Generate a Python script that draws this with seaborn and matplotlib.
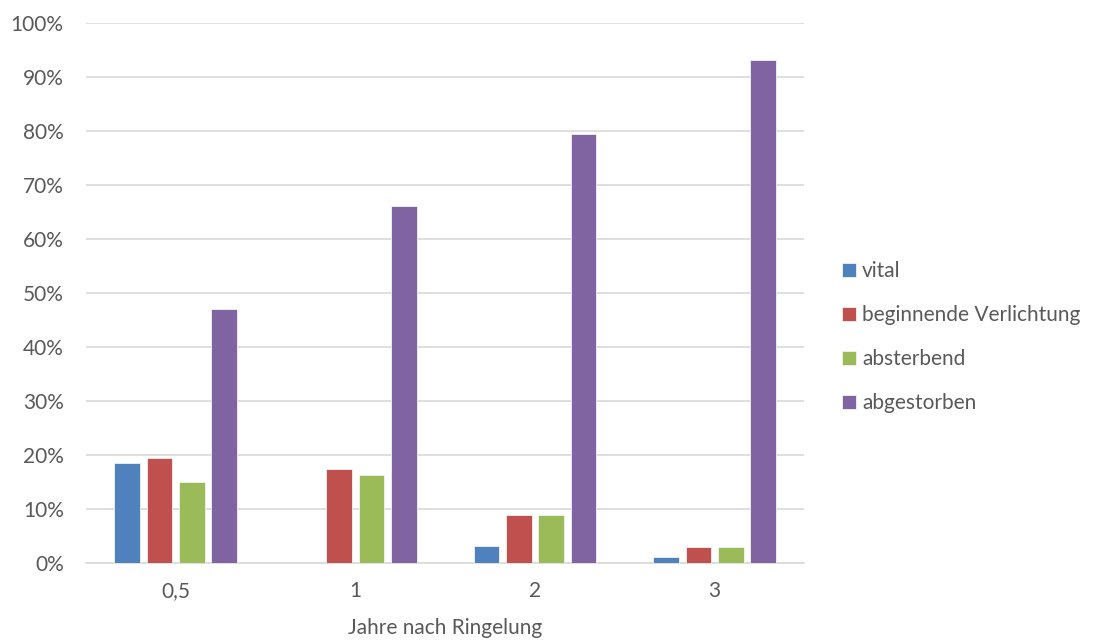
import matplotlib
matplotlib.use("Agg")
import matplotlib.pyplot as plt
import seaborn as sns
import pandas as pd
from matplotlib.ticker import FuncFormatter, MultipleLocator

# Anteil der Bäume je Zustandsklasse (in %) nach Jahren seit Ringelung
jahre = ["0,5", "1", "2", "3"]
vital = [18.5, 0.0, 3.2, 1.05]
beginnende_verlichtung = [19.5, 17.5, 8.8, 3.0]
absterbend = [15.0, 16.3, 8.8, 3.0]
abgestorben = [47.0, 66.2, 79.5, 93.1]

klassen = ["vital", "beginnende Verlichtung", "absterbend", "abgestorben"]
farben = ["#4F81BD", "#C0504D", "#9BBB59", "#8064A2"]

rows = []
for klasse, werte in zip(klassen, [vital, beginnende_verlichtung, absterbend, abgestorben]):
    for j, w in zip(jahre, werte):
        rows.append({"Jahre": j, "Klasse": klasse, "Anteil": w})
df = pd.DataFrame(rows)

sns.set_theme(style="white")
plt.rcParams["font.family"] = ["Lato", "DejaVu Sans"]

fig = plt.figure(figsize=(11.02, 6.43), dpi=100)
ax = fig.add_axes([0.078, 0.1244, 0.652, 0.8398])

sns.barplot(data=df, x="Jahre", y="Anteil", hue="Klasse", order=jahre,
            hue_order=klassen, palette=farben, width=0.72, gap=0.21,
            saturation=1, ax=ax, edgecolor="#F2F2F2", linewidth=0.6, zorder=3)

ax.set_ylim(0, 100)
ax.yaxis.set_major_locator(MultipleLocator(10))
ax.yaxis.set_major_formatter(FuncFormatter(lambda v, _: f"{v:.0f}%"))
ax.grid(axis="y", color="#D9D9D9", linewidth=1.2, zorder=0)
ax.set_axisbelow(True)
for s in ["top", "right", "left"]:
    ax.spines[s].set_visible(False)
ax.spines["bottom"].set_color("#D9D9D9")
ax.spines["bottom"].set_linewidth(1.2)
ax.tick_params(axis="y", length=0, labelsize=15, colors="#595959", pad=16)
ax.tick_params(axis="x", length=0, labelsize=15, colors="#595959", pad=13)
ax.set_ylabel("")
ax.set_xlabel("Jahre nach Ringelung", fontsize=15, color="#595959", labelpad=12)

handles, labels = ax.get_legend_handles_labels()
ax.legend(handles, labels, loc="center left", bbox_to_anchor=(0.751, 0.476),
          bbox_transform=fig.transFigure, frameon=False, fontsize=15,
          labelcolor="#595959", handlelength=0.65, handleheight=0.65,
          handletextpad=0.3, labelspacing=1.15, borderpad=0.2)

fig.savefig("out.png", dpi=100)
